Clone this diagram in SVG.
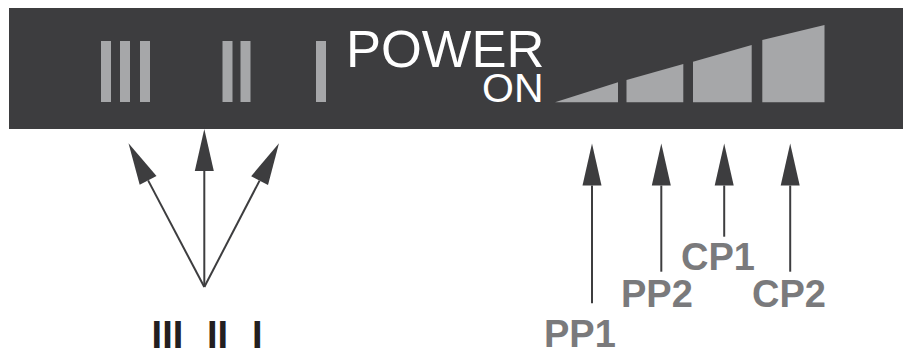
<svg xmlns="http://www.w3.org/2000/svg" width="903" height="353" viewBox="0 0 903 353">
<style>
.bar{fill:#a6a7a9}
.conn{stroke:#3d3d3f;stroke-width:2;fill:none;marker-end:url(#ah)}
.lbl{font-family:"Liberation Sans",Arial,sans-serif;font-weight:bold;font-size:38px;fill:#7a7a7c}
.roman{font-family:"Liberation Sans",Arial,sans-serif;font-weight:bold;font-size:38px;fill:#231f20}
.white{font-family:"Liberation Sans",Arial,sans-serif;fill:#ffffff}
</style>
<defs>
<marker id="ah" markerUnits="userSpaceOnUse" markerWidth="44" markerHeight="20" refX="0" refY="9.5" orient="auto" viewBox="0 0 44 20" overflow="visible">
<path d="M0,0 L42,9.5 L0,19 Z" fill="#3d3d3f"/>
</marker>
</defs>
<g id="panel">
<rect x="9" y="8" width="894" height="121" fill="#3d3d3f"/>
</g>
<g id="speed-bars">
<rect class="bar" x="101" y="41" width="10" height="61"/>
<rect class="bar" x="120" y="41" width="10" height="61"/>
<rect class="bar" x="140" y="41" width="10" height="61"/>
<rect class="bar" x="222.5" y="41" width="10" height="61"/>
<rect class="bar" x="240.5" y="41" width="10" height="61"/>
<rect class="bar" x="316" y="41" width="10" height="61"/>
</g>
<g id="power-label">
<text class="white" x="346" y="67" font-size="52.5">POWER</text>
<text class="white" x="482" y="102" font-size="41">ON</text>
</g>
<g id="power-wedges">
<polygon class="bar" points="555,102.3 618,82.3 618,102.3"/>
<polygon class="bar" points="626.5,80 683.3,64 683.3,102.3 626.5,102.3"/>
<polygon class="bar" points="693,61.7 751.7,45 751.7,102.3 693,102.3"/>
<polygon class="bar" points="762.3,40 824.5,25 824.5,102.3 762.3,102.3"/>
</g>
<g id="connectors">
<line class="conn" x1="204.3" y1="287" x2="148.1" y2="180.4"/>
<line class="conn" x1="204.3" y1="287" x2="204.3" y2="171"/>
<line class="conn" x1="204.3" y1="287" x2="259.6" y2="180.6"/>
<line class="conn" x1="592" y1="303.3" x2="592" y2="185.5"/>
<line class="conn" x1="661.3" y1="271.7" x2="661.3" y2="185.5"/>
<line class="conn" x1="724.2" y1="236.7" x2="724.2" y2="185.5"/>
<line class="conn" x1="790.2" y1="271.7" x2="790.2" y2="185.5"/>
</g>
<g id="label-roman">
<text class="roman" x="151.6" y="348">III</text>
<text class="roman" x="207" y="348">II</text>
<text class="roman" x="252" y="348">I</text>
</g>
<g id="label-pp1"><text class="lbl" x="544" y="347">PP1</text></g>
<g id="label-pp2"><text class="lbl" x="621" y="307">PP2</text></g>
<g id="label-cp1"><text class="lbl" x="681" y="270">CP1</text></g>
<g id="label-cp2"><text class="lbl" x="752" y="307">CP2</text></g>
</svg>
